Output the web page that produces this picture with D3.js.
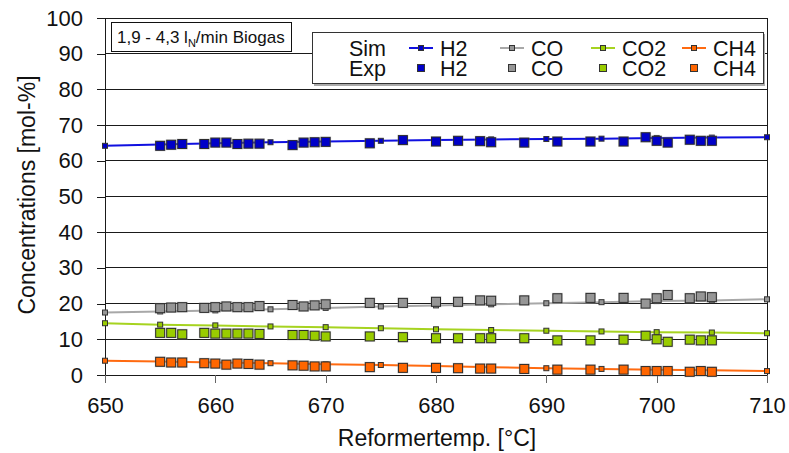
<!DOCTYPE html>
<html>
<head>
<meta charset="utf-8">
<script src="https://cdn.jsdelivr.net/npm/d3@7"></script>
<style>
  html, body { margin: 0; padding: 0; background: #fff; }
  svg { display: block; font-family: "Liberation Sans", Arial, sans-serif; }
</style>
</head>
<body>
<svg id="chart" width="789" height="453"></svg>
<script>
// Simulated gas composition (every 5 °C)
const simTemps = [650, 655, 660, 665, 670, 675, 680, 685, 690, 695, 700, 705, 710];
const simH2  = [64.2, 64.6, 64.9, 65.2, 65.4, 65.6, 65.8, 66.0, 66.1, 66.2, 66.4, 66.5, 66.6];
const simCO  = [17.5, 17.8, 18.1, 18.4, 18.8, 19.2, 19.5, 19.8, 20.1, 20.4, 20.7, 20.9, 21.2];
const simCO2 = [14.5, 14.1, 13.9, 13.6, 13.4, 13.1, 12.8, 12.6, 12.4, 12.2, 12.0, 11.9, 11.7];
const simCH4 = [4.0, 3.8, 3.5, 3.3, 3.0, 2.8, 2.5, 2.2, 1.9, 1.7, 1.5, 1.3, 1.1];

// Measured gas composition
const expTemps = [655, 656, 657, 659, 660, 661, 662, 663, 664, 667, 668, 669, 670, 674, 677,
                  680, 682, 684, 685, 688, 691, 694, 697, 699, 700, 701, 703, 704, 705];
const expH2  = [64.2, 64.5, 64.7, 64.7, 65.1, 65.1, 64.7, 64.8, 64.8, 64.4, 65.1, 65.2, 65.3, 64.9, 65.8,
                65.4, 65.6, 65.5, 65.2, 65.1, 65.4, 65.4, 65.4, 66.6, 65.6, 65.1, 65.9, 65.6, 65.6];
const expCO  = [18.7, 18.9, 19.0, 18.8, 19.0, 19.2, 19.0, 19.0, 19.3, 19.6, 19.2, 19.5, 19.8, 20.2, 20.2,
                20.5, 20.5, 20.9, 20.8, 20.9, 21.5, 21.6, 21.6, 20.0, 21.5, 22.4, 21.5, 22.0, 21.8];
const expCO2 = [11.8, 11.8, 11.4, 11.8, 11.6, 11.6, 11.6, 11.6, 11.5, 11.2, 11.2, 11.0, 10.8, 10.8, 10.6,
                10.3, 10.3, 10.3, 10.3, 10.3, 9.7, 9.7, 9.9, 11.0, 10.0, 9.3, 9.9, 9.7, 9.7];
const expCH4 = [3.7, 3.5, 3.5, 3.3, 3.2, 2.9, 3.2, 3.1, 2.9, 2.7, 2.6, 2.4, 2.4, 2.2, 2.0,
                2.0, 1.9, 1.8, 1.8, 1.7, 1.5, 1.5, 1.5, 1.1, 1.1, 1.1, 0.9, 1.1, 0.9];

const seriesNames = ["H2", "CO", "CO2", "CH4"];
const xTicks = [650, 660, 670, 680, 690, 700, 710];
const yTicks = [0, 10, 20, 30, 40, 50, 60, 70, 80, 90, 100];

const series = [
  { name: "H2",  sim: simH2,  exp: expH2,  line: "#1010e0", fill: "#0000c8" },
  { name: "CO",  sim: simCO,  exp: expCO,  line: "#a8a8a8", fill: "#969696" },
  { name: "CO2", sim: simCO2, exp: expCO2, line: "#a6d320", fill: "#99cc00" },
  { name: "CH4", sim: simCH4, exp: expCH4, line: "#ff6a10", fill: "#ff6600" }
];

const svg = d3.select("#chart");
const plotLeft = 105, plotRight = 767, plotTop = 18, plotBottom = 375;

const x = d3.scaleLinear().domain([650, 710]).range([plotLeft, plotRight]);
const y = d3.scaleLinear().domain([0, 100]).range([plotBottom, plotTop]);

// horizontal grid
svg.append("g").selectAll("line").data(yTicks).join("line")
  .attr("x1", plotLeft).attr("x2", plotRight)
  .attr("y1", d => y(d)).attr("y2", d => y(d))
  .attr("stroke", "#1a1a1a").attr("stroke-width", 1)
  .attr("shape-rendering", "crispEdges");

// right frame
svg.append("line").attr("x1", plotRight).attr("x2", plotRight).attr("y1", plotTop).attr("y2", plotBottom + 8)
  .attr("stroke", "#1a1a1a").attr("shape-rendering", "crispEdges");

// y axis
const yAxis = d3.axisLeft(y).tickValues(yTicks).tickSize(8).tickPadding(14);
const gy = svg.append("g").attr("transform", `translate(${plotLeft},0)`).call(yAxis);
gy.select(".domain").attr("stroke", "#1a1a1a").attr("shape-rendering", "crispEdges");
gy.selectAll(".tick line").attr("stroke", "#1a1a1a").attr("shape-rendering", "crispEdges");
gy.selectAll(".tick text").attr("font-size", 22).attr("fill", "#111")
  .attr("font-family", "Liberation Sans, Arial, sans-serif");

// x axis
const xAxis = d3.axisBottom(x).tickValues(xTicks).tickSize(8).tickPadding(14).tickFormat(d3.format("d"));
const gx = svg.append("g").attr("transform", `translate(0,${plotBottom})`).call(xAxis);
gx.select(".domain").attr("stroke", "#1a1a1a").attr("shape-rendering", "crispEdges");
gx.selectAll(".tick line").attr("stroke", "#666").attr("shape-rendering", "crispEdges");
gx.selectAll(".tick text").attr("font-size", 22).attr("fill", "#111")
  .attr("font-family", "Liberation Sans, Arial, sans-serif");

// axis titles
svg.append("text").attr("x", 437).attr("y", 446).attr("text-anchor", "middle")
  .attr("font-size", 23).attr("fill", "#111").text("Reformertemp. [°C]");
svg.append("text").attr("transform", "translate(35,195) rotate(-90)").attr("text-anchor", "middle")
  .attr("font-size", 23).attr("fill", "#111").text("Concentrations [mol-%]");

// simulation lines and markers
const line = d3.line().x((d, i) => x(simTemps[i])).y(d => y(d));
const plot = svg.append("g");
series.forEach(s => {
  plot.append("path").datum(s.sim).attr("d", line)
    .attr("fill", "none").attr("stroke", s.line).attr("stroke-width", 2);
});
series.forEach(s => {
  plot.append("g").selectAll("rect").data(s.sim).join("rect")
    .attr("x", (d, i) => x(simTemps[i]) - 2.5).attr("y", d => y(d) - 2.5)
    .attr("width", 5).attr("height", 5)
    .attr("fill", s.fill).attr("stroke", "#333").attr("stroke-width", 1);
});

// measured points, each with a faint grey halo
series.forEach(s => {
  const g = plot.append("g");
  g.selectAll("rect.halo").data(s.exp).join("rect").attr("class", "halo")
    .attr("x", (d, i) => x(expTemps[i]) - 5.5).attr("y", d => y(d) - 5.5)
    .attr("width", 11).attr("height", 11)
    .attr("fill", "#9a9a9a").attr("opacity", 0.35);
  g.selectAll("rect.pt").data(s.exp).join("rect").attr("class", "pt")
    .attr("x", (d, i) => x(expTemps[i]) - 4.5).attr("y", d => y(d) - 4.5)
    .attr("width", 9).attr("height", 9)
    .attr("fill", s.fill).attr("stroke", "#2a2a2a").attr("stroke-width", 1);
});

// condition label box
svg.append("rect").attr("x", 111.5).attr("y", 22.5).attr("width", 180).attr("height", 29)
  .attr("fill", "#fff").attr("stroke", "#111");
const cond = svg.append("text").attr("x", 117).attr("y", 43).attr("font-size", 17).attr("fill", "#111");
cond.append("tspan").text("1,9 - 4,3 l");
cond.append("tspan").attr("font-size", 11).attr("dy", 4).text("N");
cond.append("tspan").attr("dy", -4).text("/min Biogas");

// legend
const lg = svg.append("g");
lg.append("rect").attr("x", 314).attr("y", 34).attr("width", 451).attr("height", 52).attr("fill", "#aaa");
lg.append("rect").attr("x", 312.5).attr("y", 32.5).attr("width", 451).attr("height", 51)
  .attr("fill", "#fff").attr("stroke", "#333");
const row1 = 56, row2 = 76;
const legFont = 21.5;
lg.append("text").attr("x", 349).attr("y", row1).attr("font-size", legFont).attr("fill", "#111").text("Sim");
lg.append("text").attr("x", 349).attr("y", row2).attr("font-size", legFont).attr("fill", "#111").text("Exp");
const legX = [409, 500, 591, 682];
series.forEach((s, i) => {
  const lx = legX[i];
  lg.append("line").attr("x1", lx).attr("x2", lx + 24).attr("y1", row1 - 8).attr("y2", row1 - 8)
    .attr("stroke", s.line).attr("stroke-width", 2);
  lg.append("rect").attr("x", lx + 9.5).attr("y", row1 - 10.5).attr("width", 5).attr("height", 5)
    .attr("fill", s.fill).attr("stroke", "#333");
  lg.append("rect").attr("x", lx + 8.5).attr("y", row2 - 11.5).attr("width", 7).attr("height", 7)
    .attr("fill", s.fill).attr("stroke", "#333");
  lg.append("text").attr("x", lx + 31).attr("y", row1).attr("font-size", legFont).attr("fill", "#111").text(seriesNames[i]);
  lg.append("text").attr("x", lx + 31).attr("y", row2).attr("font-size", legFont).attr("fill", "#111").text(seriesNames[i]);
});
</script>
</body>
</html>
